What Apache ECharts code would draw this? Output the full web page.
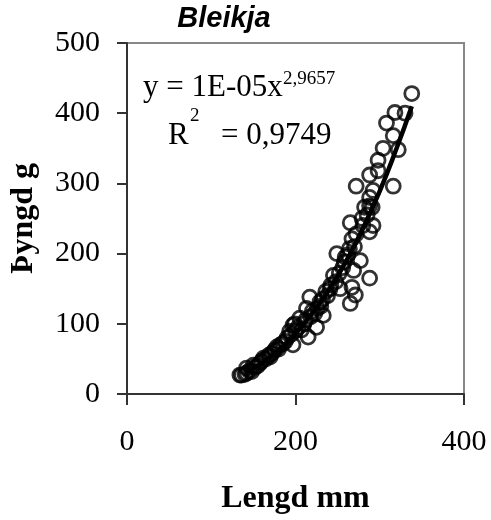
<!DOCTYPE html>
<html>
<head>
<meta charset="utf-8">
<script src="https://cdn.jsdelivr.net/npm/echarts@6/dist/echarts.min.js"></script>
<style>html,body{margin:0;padding:0;background:#fff}#c{width:491px;height:520px}</style>
</head>
<body>
<div id="c"></div>
<script>
// Scatter data: [length mm, weight g]
const lengthMm = [338,318,330,308,316,304,322,298,288,298,272,316,288,292,282,291,
  288,265,279,292,288,267,264,249,259,277,269,245,288,267,253,271,265,241,236,217,229,213,223,205,233,199,
  197,193,225,215,207,178,185,197,162,170,150,136,142,148,134,142,
  140,145,152,155,158,160,165,168,172,175,180,182,188,190,195,200,203,210,212,218,220,226,230,232,238,242,248,252,256,258,262,270,272,280,285];
const weightG = [428,401,400,386,368,350,348,333,312,318,296,296,280,290,266,266,
  268,244,250,240,231,221,207,200,195,190,176,169,165,152,150,141,129,150,146,138,131,122,115,108,112,100,
  98,89,95,81,91,67,72,70,51,53,41,27,30,32,27,37,
  28,33,38,40,44,47,50,55,58,62,64,70,75,80,85,90,95,100,105,110,118,122,125,135,140,155,160,172,180,188,198,210,228,240,255];
// Trendline (power fit)
const trendX = [140,160,180,200,220,240,260,280,300,320,338];
const trendY = [30,44,63,86,115,149,189,236,289,350,410];
const xTicks = [0,200,400];
const yTicks = [0,100,200,300,400,500];

const scatterData = lengthMm.map((x,i)=>[x, weightG[i]]);
const trendData = trendX.map((x,i)=>[x, trendY[i]]);

const chart = echarts.init(document.getElementById('c'));
const serif = '"Liberation Serif", "Times New Roman", serif';
const axisCol = '#333';
chart.setOption({
  animation:false,
  backgroundColor:'#fff',
  grid:{left:127,right:27,top:43,bottom:124,show:true,borderColor:'#888',borderWidth:2,backgroundColor:'transparent'},
  xAxis:{type:'value',min:xTicks[0],max:xTicks[xTicks.length-1],interval:200,
    axisLine:{show:true,lineStyle:{color:axisCol,width:2}},
    axisTick:{show:true,inside:false,length:11,lineStyle:{color:axisCol,width:2}},
    axisLabel:{fontFamily:serif,fontSize:30,color:'#000',margin:33},
    splitLine:{show:false},
    name:'Lengd mm',nameLocation:'middle',nameGap:89,
    nameTextStyle:{fontFamily:serif,fontSize:32,fontWeight:'bold',color:'#000'}},
  yAxis:{type:'value',min:yTicks[0],max:yTicks[yTicks.length-1],interval:100,
    axisLine:{show:true,lineStyle:{color:axisCol,width:2}},
    axisTick:{show:true,inside:false,length:10,lineStyle:{color:axisCol,width:2}},
    axisLabel:{fontFamily:serif,fontSize:30,color:'#000',margin:27},
    splitLine:{show:false},
    name:'Þyngd g',nameLocation:'middle',nameGap:87,nameRotate:90,
    nameTextStyle:{fontFamily:serif,fontSize:32,fontWeight:'bold',color:'#000'}},
  graphic:[
    {type:'text',x:224,y:19,style:{text:'Bleikja',font:'italic bold 29px "Liberation Sans", Arial, sans-serif',fill:'#000',textAlign:'center',textVerticalAlign:'middle'}},
    {type:'text',x:143,y:88,z:10,style:{text:'y = 1E-05x',font:'31px '+serif,fill:'#000',textAlign:'left',textVerticalAlign:'middle'}},
    {type:'text',x:283,y:79,z:10,style:{text:'2,9657',font:'19px '+serif,fill:'#000',textAlign:'left',textVerticalAlign:'middle'}},
    {type:'text',x:168,y:136,z:10,style:{text:'R',font:'31px '+serif,fill:'#000',textAlign:'left',textVerticalAlign:'middle'}},
    {type:'text',x:190,y:116,z:10,style:{text:'2',font:'19px '+serif,fill:'#000',textAlign:'left',textVerticalAlign:'middle'}},
    {type:'text',x:221,y:136,z:10,style:{text:'= 0,9749',font:'31px '+serif,fill:'#000',textAlign:'left',textVerticalAlign:'middle'}}
  ],
  series:[
    {type:'scatter',data:scatterData,symbol:'circle',symbolSize:14,
      itemStyle:{color:'rgba(255,255,255,0)',borderColor:'#000',borderWidth:2.8}},
    {type:'line',data:trendData,smooth:true,showSymbol:false,z:5,
      lineStyle:{color:'#000',width:4.5}}
  ]
});
</script>
</body>
</html>
